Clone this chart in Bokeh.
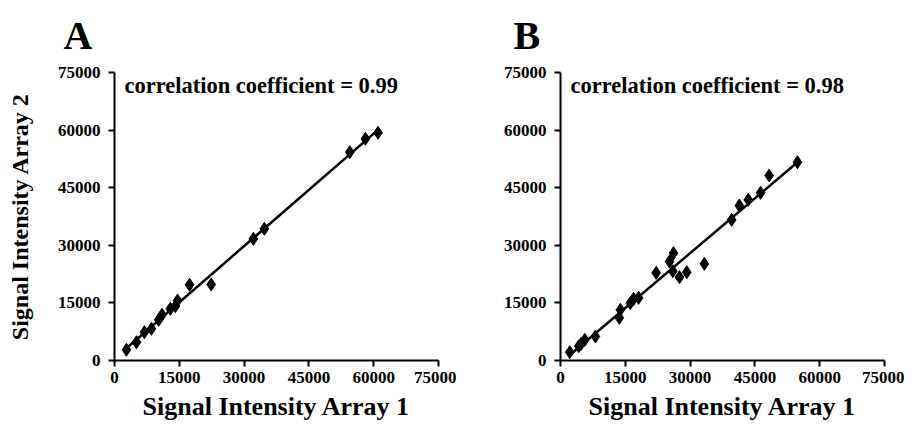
import numpy as np
from bokeh.plotting import figure
from bokeh.layouts import row
from bokeh.models import Range1d, FixedTicker, Label
from bokeh.embed import file_html
from bokeh.resources import INLINE

ticks = [0, 15000, 30000, 45000, 60000, 75000]

# Panel A
a_x = [2770, 5080, 6920, 8540, 10230, 11000, 12920, 14080, 14600, 17380, 22380, 32150, 34690, 54460, 58080, 61000]
a_y = [2790, 4770, 7370, 8250, 10600, 11900, 13460, 14150, 15625, 19700, 19800, 31680, 34300, 54250, 57730, 59290]
a_r = "correlation coefficient = 0.99"

# Panel B
b_x = [2150, 4230, 4770, 5620, 8080, 13620, 13850, 16150, 16920, 18080, 22150, 25230, 26150, 26000, 27540, 29230, 33300, 39620, 41380, 43460, 46310, 48300, 54850]
b_y = [2170, 3730, 4340, 5380, 6250, 11110, 13190, 14930, 16060, 16320, 22830, 25780, 27950, 23260, 21700, 23000, 25170, 36630, 40360, 41840, 43660, 48180, 51640]
b_r = "correlation coefficient = 0.98"

FONT = "Liberation Serif"


def make_panel(xs, ys, rtext, letter, letter_offset, left_border, right_border, ylabel):
    p = figure(frame_width=324, frame_height=288,
               min_border_left=left_border, min_border_right=right_border,
               min_border_top=72, min_border_bottom=63,
               x_range=Range1d(0, 75000), y_range=Range1d(0, 75000),
               output_backend="svg", toolbar_location=None,
               title=letter)
    p.title.text_font = FONT
    p.title.text_font_style = "bold"
    p.title.text_font_size = "40px"
    p.title.text_color = "black"
    p.title.align = "left"
    p.title.vertical_align = "top"
    p.title.offset = letter_offset
    p.title.standoff = 25
    p.outline_line_color = None
    p.xgrid.grid_line_color = None
    p.ygrid.grid_line_color = None
    p.background_fill_color = "white"
    p.border_fill_color = "white"
    for ax in (p.xaxis, p.yaxis):
        ax.ticker = FixedTicker(ticks=ticks)
        ax.axis_line_width = 2
        ax.axis_line_color = "black"
        ax.major_tick_line_width = 2
        ax.major_tick_line_color = "black"
        ax.major_tick_out = 6
        ax.major_tick_in = 0
        ax.minor_tick_line_color = None
        ax.major_label_text_font = FONT
        ax.major_label_text_font_style = "bold"
        ax.major_label_text_font_size = "17px"
        ax.major_label_text_color = "black"
        ax.axis_label_text_font = FONT
        ax.axis_label_text_font_style = "bold"
        ax.axis_label_text_color = "black"
    p.xaxis.axis_label = "Signal Intensity Array 1"
    p.xaxis.axis_label_text_font_size = "26px"
    p.xaxis.major_label_standoff = 5
    p.xaxis.axis_label_standoff = 6
    p.yaxis.major_label_standoff = 8
    if ylabel:
        p.yaxis.axis_label = "Signal Intensity Array 2"
        p.yaxis.axis_label_text_font_size = "24px"
        p.yaxis.axis_label_standoff = 22

    xa = np.array(xs, dtype=float)
    ya = np.array(ys, dtype=float)
    k, b = np.polyfit(xa, ya, 1)
    lx = np.array([xa.min(), xa.max()])
    p.line(lx, k * lx + b, line_color="black", line_width=2.5)
    p.scatter(xs, ys, marker="diamond", size=13, fill_color="black", line_color="black")

    p.add_layout(Label(x=2300, y=71600, text=rtext, text_font=FONT, text_font_style="bold",
                       text_font_size="22.5px", text_baseline="middle", text_color="black"))
    return p


pa = make_panel(a_x, a_y, a_r, "A", -51, 114, 18, True)
pb = make_panel(b_x, b_y, b_r, "B", -47, 104, 20, False)

layout = row(pa, pb, spacing=0)
open("out.html", "w").write(file_html(layout, INLINE))
